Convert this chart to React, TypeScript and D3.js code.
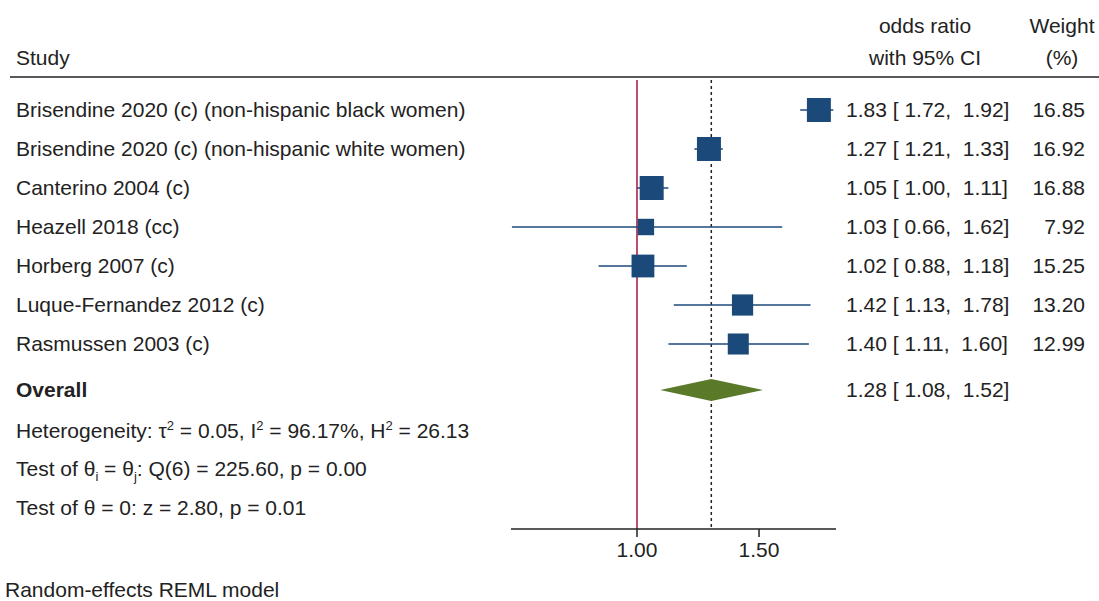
import React from "react";
import * as d3 from "d3";

const studies = [
  "Brisendine 2020 (c) (non-hispanic black women)",
  "Brisendine 2020 (c) (non-hispanic white women)",
  "Canterino 2004 (c)",
  "Heazell 2018 (cc)",
  "Horberg 2007 (c)",
  "Luque-Fernandez 2012 (c)",
  "Rasmussen 2003 (c)",
];
const oddsRatio = [1.83, 1.27, 1.05, 1.03, 1.02, 1.42, 1.4];
const ciLow = [1.72, 1.21, 1.0, 0.66, 0.88, 1.13, 1.11];
const ciHigh = [1.92, 1.33, 1.11, 1.62, 1.18, 1.78, 1.77];
const ciLabels = [
  "1.83 [ 1.72,  1.92]",
  "1.27 [ 1.21,  1.33]",
  "1.05 [ 1.00,  1.11]",
  "1.03 [ 0.66,  1.62]",
  "1.02 [ 0.88,  1.18]",
  "1.42 [ 1.13,  1.78]",
  "1.40 [ 1.11,  1.60]",
];
const weights = [16.85, 16.92, 16.88, 7.92, 15.25, 13.2, 12.99];
const overall = { est: 1.28, lo: 1.08, hi: 1.52, label: "1.28 [ 1.08,  1.52]" };
const axisTicks = [1.0, 1.5];
const axisDomain = [0.658, 1.937];

const FONT = "'Liberation Sans', Arial, Helvetica, sans-serif";
const FS = 21;
const BLUE = "#1b4a7a";
const GREEN = "#5a7a2a";
const RED = "#a8123c";

export default function App() {
  const W = 1099;
  const H = 601;
  const x = d3.scaleLog().domain(axisDomain).range([511, 836]);
  const rowY = d3
    .scaleLinear()
    .domain([0, 1])
    .range([110, 149]);
  const axisY = 529;
  const overallY = 390;
  const sizeScale = d3.scaleSqrt().domain([0, 16.9]).range([0, 24]);
  const textCol = 846;
  const wRight = 1085;

  const diamond = d3.line()([
    [x(overall.lo), overallY],
    [x(overall.est), overallY - 11],
    [x(overall.hi), overallY],
    [x(overall.est), overallY + 11],
  ]);

  return (
    <svg
      width={W}
      height={H}
      style={{ position: "absolute", left: 0, top: 0, background: "#fff" }}
      fontFamily={FONT}
      fontSize={FS}
    >
      <rect x={0} y={0} width={W} height={H} fill="#fff" />
      {/* headers */}
      <text x={16} y={65} fill="#222">Study</text>
      <text x={925} y={33} textAnchor="middle" fill="#222">odds ratio</text>
      <text x={925} y={65} textAnchor="middle" fill="#222">with 95% CI</text>
      <text x={1062} y={33} textAnchor="middle" fill="#222">Weight</text>
      <text x={1062} y={65} textAnchor="middle" fill="#222">(%)</text>
      <line x1={10} x2={1099} y1={77} y2={77} stroke="#222" strokeWidth={1.5} />

      {/* reference lines */}
      <line x1={x(1)} x2={x(1)} y1={80} y2={axisY} stroke={RED} strokeWidth={1.5} />
      <line
        x1={x(overall.est)}
        x2={x(overall.est)}
        y1={80}
        y2={axisY}
        stroke="#222"
        strokeWidth={1.5}
        strokeDasharray="3,3"
      />

      {/* study rows */}
      {studies.map((s, i) => {
        const y = rowY(i);
        const side = sizeScale(weights[i]);
        return (
          <g key={s}>
            <text x={16} y={y} dy="0.35em" fill="#222">{s}</text>
            <line x1={x(ciLow[i])} x2={x(ciHigh[i])} y1={y} y2={y} stroke={BLUE} strokeWidth={1.5} />
            <rect
              x={x(oddsRatio[i]) - side / 2}
              y={y - side / 2}
              width={side}
              height={side}
              fill={BLUE}
            />
            <text x={textCol} y={y} dy="0.35em" fill="#222" style={{ whiteSpace: "pre" }}>
              {ciLabels[i]}
            </text>
            <text x={wRight} y={y} dy="0.35em" textAnchor="end" fill="#222">
              {weights[i].toFixed(2)}
            </text>
          </g>
        );
      })}

      {/* overall */}
      <text x={16} y={overallY} dy="0.35em" fontWeight="bold" fill="#222">Overall</text>
      <path d={diamond || ""} fill={GREEN} />
      <text x={textCol} y={overallY} dy="0.35em" fill="#222" style={{ whiteSpace: "pre" }}>
        {overall.label}
      </text>

      {/* stats */}
      <text x={16} y={431} dy="0.35em" fill="#222">
        Heterogeneity: τ<tspan fontSize={13} dy="-8">2</tspan>
        <tspan dy="8"> = 0.05, I</tspan>
        <tspan fontSize={13} dy="-8">2</tspan>
        <tspan dy="8"> = 96.17%, H</tspan>
        <tspan fontSize={13} dy="-8">2</tspan>
        <tspan dy="8"> = 26.13</tspan>
      </text>
      <text x={16} y={469} dy="0.35em" fill="#222">
        Test of θ<tspan fontSize={13} dy="5">i</tspan>
        <tspan dy="-5"> = θ</tspan>
        <tspan fontSize={13} dy="5">j</tspan>
        <tspan dy="-5">: Q(6) = 225.60, p = 0.00</tspan>
      </text>
      <text x={16} y={508} dy="0.35em" fill="#222">Test of θ = 0: z = 2.80, p = 0.01</text>

      {/* axis */}
      <line x1={511} x2={836} y1={axisY} y2={axisY} stroke="#222" strokeWidth={1.5} />
      {axisTicks.map((t) => (
        <g key={t}>
          <line x1={x(t)} x2={x(t)} y1={axisY} y2={axisY + 8} stroke="#222" strokeWidth={1.5} />
          <text x={x(t)} y={axisY + 21} dy="0.35em" textAnchor="middle" fill="#222">
            {t.toFixed(2)}
          </text>
        </g>
      ))}

      <text x={5} y={590} dy="0.35em" fill="#222">Random-effects REML model</text>
    </svg>
  );
}
